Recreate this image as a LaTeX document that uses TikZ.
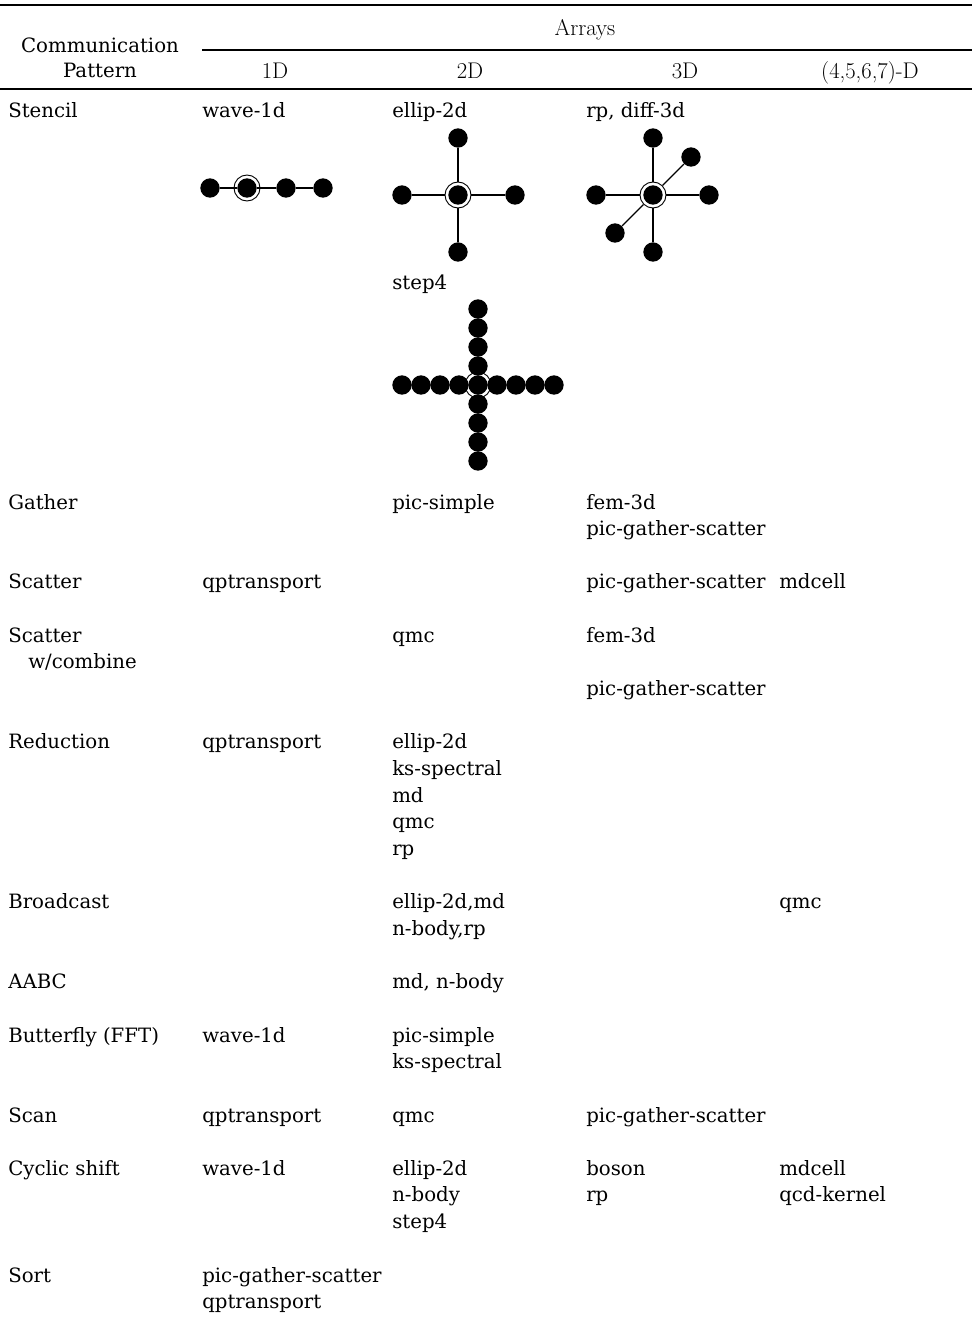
\documentclass[tikz,border=0pt]{standalone}
\usepackage{fontspec}
\newfontfamily\bodyfont{DejaVu Serif}
\begin{document}
\begin{tikzpicture}[x=0.75pt,y=-0.75pt,
  cell/.style={anchor=base west,inner sep=0pt,font=\bodyfont\fontsize{14.8pt}{17pt}\selectfont},
  bhead/.style={anchor=base,inner sep=0pt,font=\bodyfont\fontsize{14.8pt}{17pt}\selectfont},
  head/.style={anchor=base,inner sep=0pt,font=\fontsize{17pt}{19pt}\selectfont},
  dot/.style={circle,fill=black,inner sep=0pt,minimum size=14.5pt},
  ring/.style={circle,draw=black,line width=0.7pt,inner sep=0pt,minimum size=19.5pt},
  bond/.style={line width=1.9pt},
  thinbond/.style={line width=0.9pt},
  rule/.style={line width=1.2pt}]
\useasboundingbox (0,0) rectangle (972,1318);
% rules
\coordinate (r1a) at (0,5); \coordinate (r1b) at (972,5);
\coordinate (r2a) at (202,50); \coordinate (r2b) at (972,50);
\coordinate (r3a) at (0,89); \coordinate (r3b) at (972,89);
\draw[rule] (r1a) -- (r1b);
\draw[line width=0.8pt] (r2a) -- (r2b);
\draw[rule] (r3a) -- (r3b);
% header
\node[head] (hArr) at (585,35) {Arrays};
\node[bhead] (hCom) at (100,52) {Communication};
\node[bhead] (hPat) at (100,77) {Pattern};
\node[head] (h1) at (275,78) {1D};
\node[head] (h2) at (470,78) {2D};
\node[head] (h3) at (685,78) {3D};
\node[head] (h4) at (870,78) {(4,5,6,7)-D};
% Stencil
\node[cell] (sten) at (8,117) {Stencil};
\node[cell] (s1) at (202,117) {wave-1d};
\node[cell] (s2) at (392,117) {ellip-2d};
\node[cell] (s3) at (586,117) {rp, diff-3d};
% 1D stencil
\node[dot] (a1) at (210,188) {};
\node[dot] (a2) at (247,188) {};
\node[dot] (a3) at (286,188) {};
\node[dot] (a4) at (323,188) {};
\node[ring] (a2r) at (247,188) {};
\draw[bond] (a1) -- (a2) -- (a3) -- (a4);
% 2D stencil
\node[dot] (b0) at (458,195) {};
\node[ring] (b0r) at (458,195) {};
\node[dot] (bt) at (458,138) {};
\node[dot] (bb) at (458,252) {};
\node[dot] (bl) at (402,195) {};
\node[dot] (br) at (515,195) {};
\draw[bond] (bt) -- (b0r) (b0r) -- (bb) (bl) -- (b0r) (b0r) -- (br);
% 3D stencil
\node[dot] (c0) at (653,195) {};
\node[ring] (c0r) at (653,195) {};
\node[dot] (ct) at (653,138) {};
\node[dot] (cb) at (653,252) {};
\node[dot] (cl) at (596,195) {};
\node[dot] (cr) at (709,195) {};
\node[dot] (cu) at (691,157) {};
\node[dot] (cd) at (615,233) {};
\draw[bond] (ct) -- (c0r) (c0r) -- (cb) (cl) -- (c0r) (c0r) -- (cr);
\draw[thinbond] (cu) -- (c0r) (c0r) -- (cd);
% step4
\node[cell] (st4) at (392,289) {step4};
\foreach \i/\x in {1/402,2/421,3/440,4/459,6/497,7/516,8/535,9/554}
  \node[dot] (dh\i) at (\x,385) {};
\foreach \i/\y in {1/309,2/328,3/347,4/366,6/404,7/423,8/442,9/461}
  \node[dot] (dv\i) at (478,\y) {};
\node[dot] (d0) at (478,385) {};
\node[ring] (d0r) at (478,385) {};
% Gather
\node[cell] (gat) at (8,509) {Gather};
\node[cell] (g2) at (392,509) {pic-simple};
\node[cell] (g3a) at (586,509) {fem-3d};
\node[cell] (g3b) at (586,535) {pic-gather-scatter};
% Scatter
\node[cell] (sca) at (8,588) {Scatter};
\node[cell] (sc1) at (202,588) {qptransport};
\node[cell] (sc3) at (586,588) {pic-gather-scatter};
\node[cell] (sc4) at (779,588) {mdcell};
% Scatter w/combine
\node[cell] (swa) at (8,642) {Scatter};
\node[cell] (swb) at (28,668) {w/combine};
\node[cell] (sw2) at (392,642) {qmc};
\node[cell] (sw3a) at (586,642) {fem-3d};
\node[cell] (sw3b) at (586,695) {pic-gather-scatter};
% Reduction
\node[cell] (red) at (8,748) {Reduction};
\node[cell] (r1) at (202,748) {qptransport};
\node[cell] (r2a) at (392,748) {ellip-2d};
\node[cell] (r2b) at (392,775) {ks-spectral};
\node[cell] (r2c) at (392,802) {md};
\node[cell] (r2d) at (392,828) {qmc};
\node[cell] (r2e) at (392,855) {rp};
% Broadcast
\node[cell] (bro) at (8,908) {Broadcast};
\node[cell] (bo2a) at (392,908) {ellip-2d,md};
\node[cell] (bo2b) at (392,935) {n-body,rp};
\node[cell] (bo4) at (779,908) {qmc};
% AABC
\node[cell] (aabc) at (8,988) {AABC};
\node[cell] (ab2) at (392,988) {md, n-body};
% Butterfly
\node[cell] (but) at (8,1042) {Butterfly (FFT)};
\node[cell] (bu1) at (202,1042) {wave-1d};
\node[cell] (bu2a) at (392,1042) {pic-simple};
\node[cell] (bu2b) at (392,1068) {ks-spectral};
% Scan
\node[cell] (scan) at (8,1122) {Scan};
\node[cell] (sn1) at (202,1122) {qptransport};
\node[cell] (sn2) at (392,1122) {qmc};
\node[cell] (sn3) at (586,1122) {pic-gather-scatter};
% Cyclic shift
\node[cell] (cyc) at (8,1175) {Cyclic shift};
\node[cell] (cy1) at (202,1175) {wave-1d};
\node[cell] (cy2a) at (392,1175) {ellip-2d};
\node[cell] (cy2b) at (392,1201) {n-body};
\node[cell] (cy2c) at (392,1228) {step4};
\node[cell] (cy3a) at (586,1175) {boson};
\node[cell] (cy3b) at (586,1201) {rp};
\node[cell] (cy4a) at (779,1175) {mdcell};
\node[cell] (cy4b) at (779,1201) {qcd-kernel};
% Sort
\node[cell] (sort) at (8,1282) {Sort};
\node[cell] (so1a) at (202,1282) {pic-gather-scatter};
\node[cell] (so1b) at (202,1308) {qptransport};
\end{tikzpicture}
\end{document}
